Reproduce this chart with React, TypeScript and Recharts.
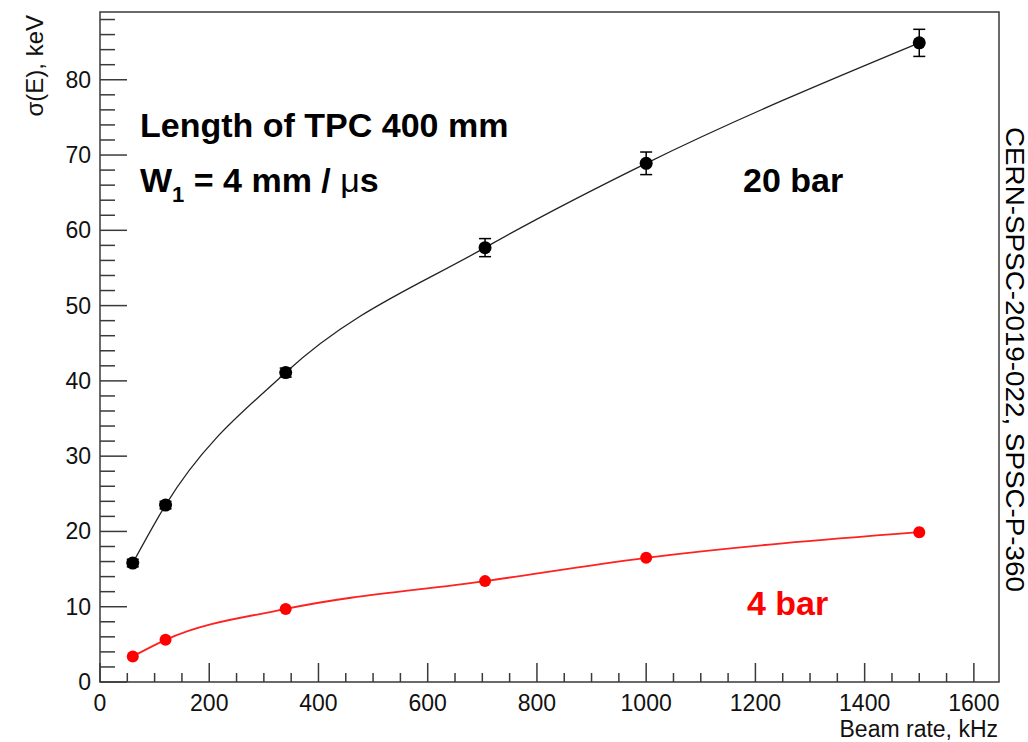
import { ComposedChart, Line, XAxis, YAxis, ErrorBar, ReferenceArea } from "recharts"

// beam rate in kHz
const rates = [60, 120, 340, 705, 1000, 1500]

// energy resolution sigma(E), keV
const sigma20bar = [15.8, 23.5, 41.1, 57.7, 68.9, 84.9]
const err20bar = [0.5, 0.5, 0.6, 1.2, 1.5, 1.8]
const sigma4bar = [3.4, 5.6, 9.7, 13.4, 16.5, 19.9]
const err4bar = [0.2, 0.3, 0.3, 0.4, 0.4, 0.6]

const xTicks = Array.from({ length: 33 }, (_, i) => i * 50)
const yTicks = Array.from({ length: 45 }, (_, i) => i * 2)

const data = rates.map((rate, i) => ({
  rate,
  s20: sigma20bar[i],
  e20: err20bar[i],
  s4: sigma4bar[i],
  e4: err4bar[i],
}))

const FONT = "'Liberation Sans', Arial, Helvetica, sans-serif"
const AXIS = "#3a3a3a"

const XTick = (props: any) => {
  const { x, y, payload } = props
  const v = payload.value
  const major = v % 200 === 0
  return (
    <g>
      <line x1={x} x2={x} y1={y} y2={y - (major ? 19 : 9)} stroke={AXIS} strokeWidth={1.5} />
      {major && (
        <text x={x} y={y + 29} textAnchor="middle" fontSize={23} fontFamily={FONT} fill="#111">
          {v}
        </text>
      )}
    </g>
  )
}

const YTick = (props: any) => {
  const { x, y, payload } = props
  const v = payload.value
  const major = v % 10 === 0
  return (
    <g>
      <line x1={x} x2={x + (major ? 27 : 15)} y1={y} y2={y} stroke={AXIS} strokeWidth={1.5} />
      {major && (
        <text x={x - 9} y={y + 8} textAnchor="end" fontSize={23} fontFamily={FONT} fill="#111">
          {v}
        </text>
      )}
    </g>
  )
}

export default function App() {
  return (
    <div style={{ position: "absolute", left: 0, top: 0, width: 1028, height: 742, background: "#fff" }}>
      <ComposedChart width={1028} height={742} data={data} margin={{ top: 12, right: 29, bottom: 0, left: 0 }}>
        <XAxis
          dataKey="rate"
          type="number"
          domain={[0, 1646]}
          ticks={xTicks}
          interval={0}
          tickSize={0}
          tickMargin={0}
          axisLine={false}
          tickLine={false}
          height={60}
          tick={<XTick />}
        />
        <YAxis
          type="number"
          domain={[0, 89]}
          ticks={yTicks}
          interval={0}
          tickSize={0}
          tickMargin={0}
          axisLine={false}
          tickLine={false}
          width={100}
          tick={<YTick />}
        />
        <ReferenceArea x1={0} x2={1646} y1={0} y2={89} fill="none" stroke={AXIS} strokeWidth={1.5} />
        <Line
          type="monotone"
          dataKey="s20"
          stroke="#222"
          strokeWidth={1.3}
          dot={{ r: 6.5, fill: "#000", stroke: "#000", strokeWidth: 0 }}
          isAnimationActive={false}
        >
          <ErrorBar dataKey="e20" width={6} stroke="#000" strokeWidth={1.5} direction="y" />
        </Line>
        <Line
          type="monotone"
          dataKey="s4"
          stroke="#ff2020"
          strokeWidth={1.8}
          dot={{ r: 6, fill: "#ff0000", stroke: "#ff0000", strokeWidth: 0 }}
          isAnimationActive={false}
        >
          <ErrorBar dataKey="e4" width={3} stroke="#ff0000" strokeWidth={1.5} direction="y" />
        </Line>
      </ComposedChart>
      <svg
        width={1028}
        height={742}
        style={{ position: "absolute", left: 0, top: 0, pointerEvents: "none" }}
        fontFamily={FONT}
      >
        <text x={43} y={15} transform="rotate(-90, 43, 15)" textAnchor="end" fontSize={24} fill="#111">
          σ(E), keV
        </text>
        <text x={998} y={737} textAnchor="end" fontSize={23} fill="#111">
          Beam rate, kHz
        </text>
        <text x={140} y={137} fontSize={34} fontWeight="bold" fill="#000">
          Length of TPC 400 mm
        </text>
        <text x={140} y={192} fontSize={34} fontWeight="bold" fill="#000">
          W
          <tspan fontSize={22} dy={10}>1</tspan>
          <tspan dy={-10}> = 4 mm / </tspan>
          <tspan fontWeight="normal">μ</tspan>
          <tspan>s</tspan>
        </text>
        <text x={743} y={192} fontSize={34} fontWeight="bold" fill="#000">
          20 bar
        </text>
        <text x={747} y={615} fontSize={34} fontWeight="bold" fill="#ff0000">
          4 bar
        </text>
        <text
          x={1006}
          y={127}
          transform="rotate(90, 1006, 127)"
          fontSize={25}
          textLength={465}
          lengthAdjust="spacingAndGlyphs"
          fill="#000"
        >
          CERN-SPSC-2019-022, SPSC-P-360
        </text>
      </svg>
    </div>
  )
}
